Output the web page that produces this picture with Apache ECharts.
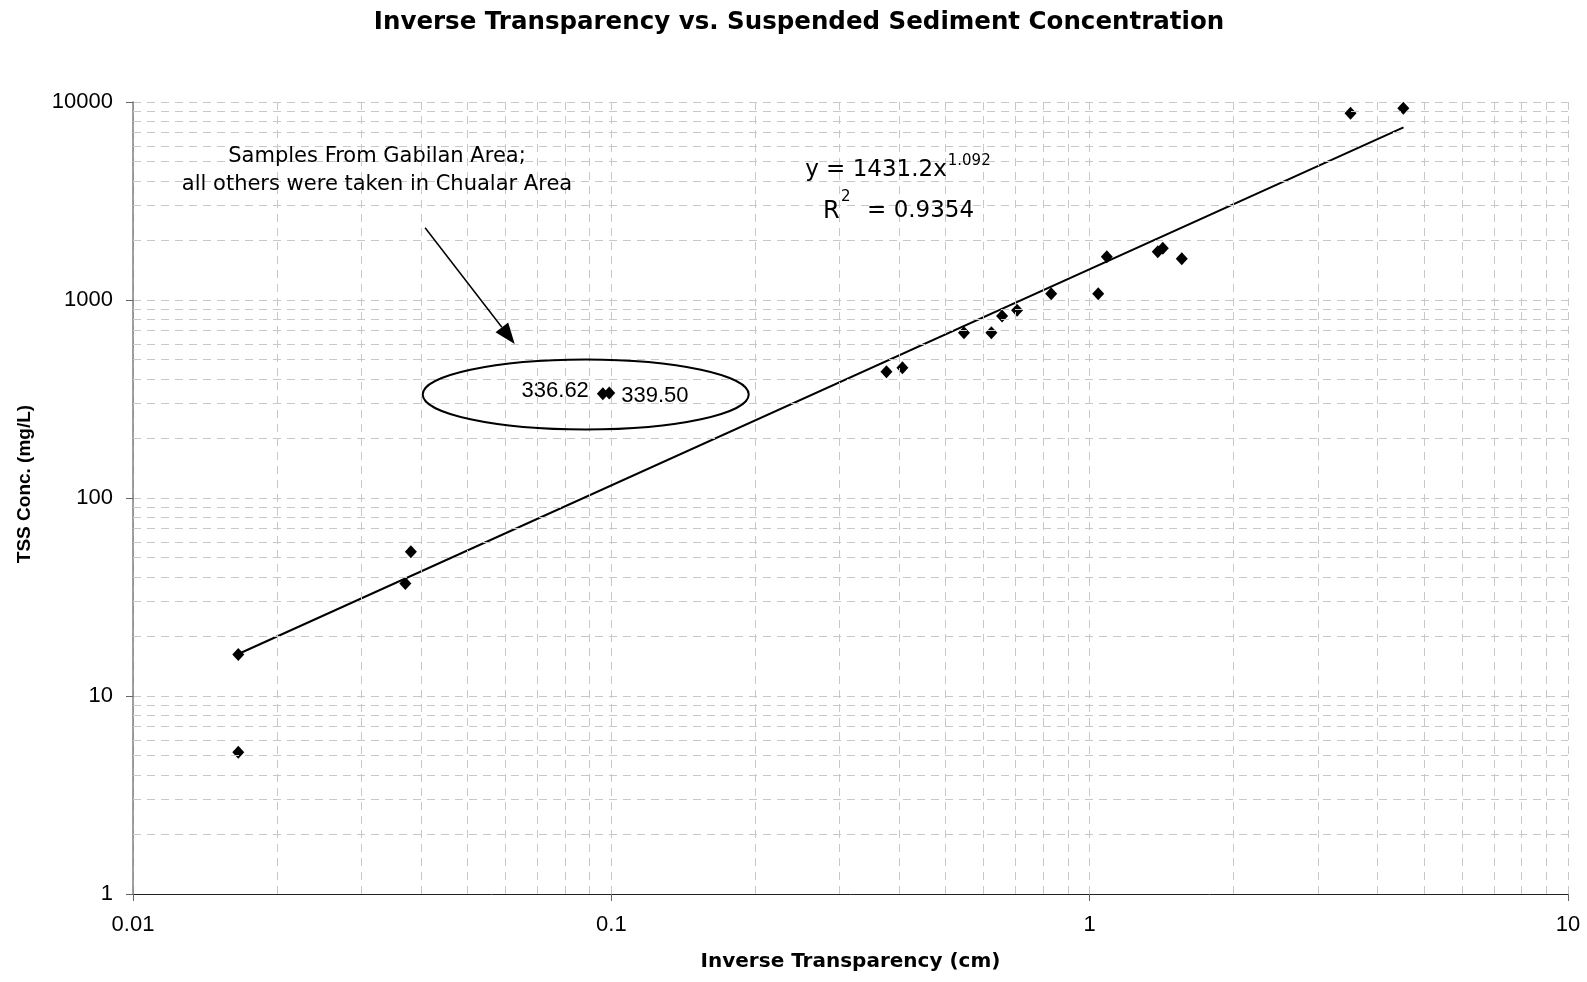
<!DOCTYPE html>
<html>
<head>
<meta charset="utf-8">
<title>Inverse Transparency vs. Suspended Sediment Concentration</title>
<script src="https://cdn.jsdelivr.net/npm/echarts@6/dist/echarts.min.js"></script>
<style>
  html, body { margin: 0; padding: 0; background: #fff; }
  #chart { width: 1587px; height: 982px; }
</style>
</head>
<body>
<div id="chart"></div>
<script>
// samples: inverse transparency (cm) and TSS concentration (mg/L)
var inverseTransparency = [0.0166, 0.0166, 0.0371, 0.0381, 0.096, 0.099, 0.376, 0.406, 0.546, 0.623,
  0.656, 0.705, 0.831, 1.042, 1.086, 1.388, 1.422, 1.558, 3.51, 4.526];
var tssConc = [16.2, 5.2, 37, 53.5, 336.62, 339.50, 434, 455, 684, 684,
  830, 887, 1076, 1076, 1654, 1754, 1825, 1617, 8770, 9294];

// the two Gabilan samples get value labels
var gabilanIdx = [4, 5];

// power trendline, end points
var trendX = [0.0166, 4.53];
var trendY = [16.3, 7450];

// tick labels (decades)
var xTickLabels = ['0.01', '0.1', '1', '10'];
var yTickLabels = ['1', '10', '100', '1000', '10000'];

// minor log grid lines
var xMinorGrid = [0.02, 0.03, 0.04, 0.05, 0.06, 0.07, 0.08, 0.09,
  0.2, 0.3, 0.4, 0.5, 0.6, 0.7, 0.8, 0.9,
  2, 3, 4, 5, 6, 7, 8, 9];
var yMinorGrid = [2, 3, 4, 5, 6, 7, 8, 9,
  20, 30, 40, 50, 60, 70, 80, 90,
  200, 300, 400, 500, 600, 700, 800, 900,
  2000, 3000, 4000, 5000, 6000, 7000, 8000, 9000];

var chart = echarts.init(document.getElementById('chart'));

var gridStyle = { color: '#c8c8c8', width: 1, type: [8, 6] };

var points = inverseTransparency.map(function (x, i) {
  var item = { value: [x, tssConc[i]] };
  var k = gabilanIdx.indexOf(i);
  if (k === 0) {
    item.label = { show: true, position: 'left', distance: 8, offset: [0, -3] };
  } else if (k === 1) {
    item.label = { show: true, position: 'right', distance: 6, offset: [0, 3] };
  }
  return item;
});

var minorLines = [];
xMinorGrid.forEach(function (v) { minorLines.push({ xAxis: v }); });
yMinorGrid.forEach(function (v) { minorLines.push({ yAxis: v }); });

var option = {
  animation: false,
  backgroundColor: '#fff',
  title: {
    text: 'Inverse Transparency vs. Suspended Sediment Concentration',
    left: 794,
    top: 5,
    textAlign: 'center',
    textStyle: { fontFamily: 'DejaVu Sans', fontWeight: 'bold', fontSize: 24.5, color: '#000' }
  },
  grid: { left: 133, right: 19, top: 102, bottom: 88 },
  xAxis: {
    type: 'log',
    logBase: 10,
    min: 0.01,
    max: 10,
    name: 'Inverse Transparency (cm)',
    nameLocation: 'middle',
    nameGap: 58,
    nameTextStyle: { fontFamily: 'DejaVu Sans', fontWeight: 'bold', fontSize: 20, color: '#000' },
    axisLine: { lineStyle: { color: '#222', width: 1 } },
    axisTick: { inside: false, length: 7, lineStyle: { color: '#666' } },
    axisLabel: {
      margin: 20,
      fontFamily: 'Liberation Sans',
      fontSize: 22,
      color: '#000',
      formatter: function (v) { return xTickLabels[Math.round(Math.log10(v)) + 2]; }
    },
    splitLine: { show: true, lineStyle: gridStyle }
  },
  yAxis: {
    type: 'log',
    logBase: 10,
    min: 1,
    max: 10000,
    axisLine: { show: true, lineStyle: { color: '#808080', width: 1.5 } },
    axisTick: { show: true, inside: false, length: 7, lineStyle: { color: '#666' } },
    axisLabel: {
      margin: 20,
      fontFamily: 'Liberation Sans',
      fontSize: 22,
      color: '#000',
      formatter: function (v) { return yTickLabels[Math.round(Math.log10(v))]; }
    },
    splitLine: { show: true, lineStyle: gridStyle }
  },
  series: [
    {
      // carrier for the minor grid lines
      type: 'line',
      z: 1,
      data: [[1, 1]],
      showSymbol: false,
      silent: true,
      lineStyle: { opacity: 0 },
      markLine: {
        silent: true,
        symbol: ['none', 'none'],
        label: { show: false },
        lineStyle: gridStyle,
        emphasis: { disabled: true },
        data: minorLines
      }
    },
    {
      name: 'Power trend',
      type: 'line',
      z: 3,
      data: trendX.map(function (x, i) { return [x, trendY[i]]; }),
      showSymbol: false,
      lineStyle: { color: '#000', width: 2 }
    },
    {
      name: 'Samples',
      type: 'scatter',
      z: 4,
      symbol: 'diamond',
      symbolSize: [12, 13],
      itemStyle: { color: '#000', opacity: 1 },
      label: {
        show: false,
        fontFamily: 'Liberation Sans',
        fontSize: 22,
        color: '#000',
        formatter: function (p) { return p.value[1].toFixed(2); }
      },
      data: points
    }
  ]
};

chart.setOption(option);

// annotations anchored to data coordinates
function px(x, y) { return chart.convertToPixel({ gridIndex: 0 }, [x, y]); }

var ec = px(0.0884, 333);
var a0 = px(0.0408, 2318);
var a1 = px(0.0628, 600);
var dx = a1[0] - a0[0], dy = a1[1] - a0[1];
var len = Math.sqrt(dx * dx + dy * dy);
var ux = dx / len, uy = dy / len;
var headLen = 21, headW = 8;
var bx = a1[0] - ux * headLen, by = a1[1] - uy * headLen;

var note = px(0.03237, 4482);
var eq1 = px(0.5026, 4508);
var eq2 = px(0.2771, 2800);

var txt = { fontFamily: 'DejaVu Sans', fill: '#000' };

chart.setOption({
  graphic: [
    {
      // y axis title
      type: 'text', silent: true, z: 10, x: 25, y: 484, rotation: Math.PI / 2,
      style: {
        text: 'TSS Conc. (mg/L)', fontFamily: 'Liberation Sans', fontWeight: 'bold',
        fontSize: 19, fill: '#000', align: 'center', verticalAlign: 'middle'
      }
    },
    {
      type: 'ellipse', silent: true, z: 10,
      shape: { cx: ec[0], cy: ec[1], rx: 163, ry: 35 },
      style: { fill: 'none', stroke: '#000', lineWidth: 2 }
    },
    {
      type: 'line', silent: true, z: 10,
      shape: { x1: a0[0], y1: a0[1], x2: bx, y2: by },
      style: { stroke: '#000', lineWidth: 1.5 }
    },
    {
      type: 'polygon', silent: true, z: 10,
      shape: { points: [a1, [bx - uy * headW, by + ux * headW], [bx + uy * headW, by - ux * headW]] },
      style: { fill: '#000' }
    },
    {
      type: 'text', silent: true, z: 10, x: note[0], y: note[1],
      style: Object.assign({
        text: 'Samples From Gabilan Area;\nall others were taken in Chualar Area',
        fontSize: 21, lineHeight: 28, align: 'center', verticalAlign: 'middle'
      }, txt)
    },
    {
      type: 'text', silent: true, z: 10, x: eq1[0], y: eq1[1],
      style: Object.assign({ text: 'y = 1431.2x', fontSize: 23, align: 'right', verticalAlign: 'middle' }, txt)
    },
    {
      type: 'text', silent: true, z: 10, x: eq1[0] + 1, y: eq1[1] - 9,
      style: Object.assign({ text: '1.092', fontSize: 15, align: 'left', verticalAlign: 'middle' }, txt)
    },
    {
      type: 'text', silent: true, z: 10, x: eq2[0], y: eq2[1],
      style: Object.assign({ text: 'R', fontSize: 24, align: 'left', verticalAlign: 'middle' }, txt)
    },
    {
      type: 'text', silent: true, z: 10, x: eq2[0] + 18, y: eq2[1] - 14,
      style: Object.assign({ text: '2', fontSize: 15, align: 'left', verticalAlign: 'middle' }, txt)
    },
    {
      type: 'text', silent: true, z: 10, x: eq2[0] + 44, y: eq2[1],
      style: Object.assign({ text: '= 0.9354', fontSize: 23, align: 'left', verticalAlign: 'middle' }, txt)
    }
  ]
});
</script>
</body>
</html>
